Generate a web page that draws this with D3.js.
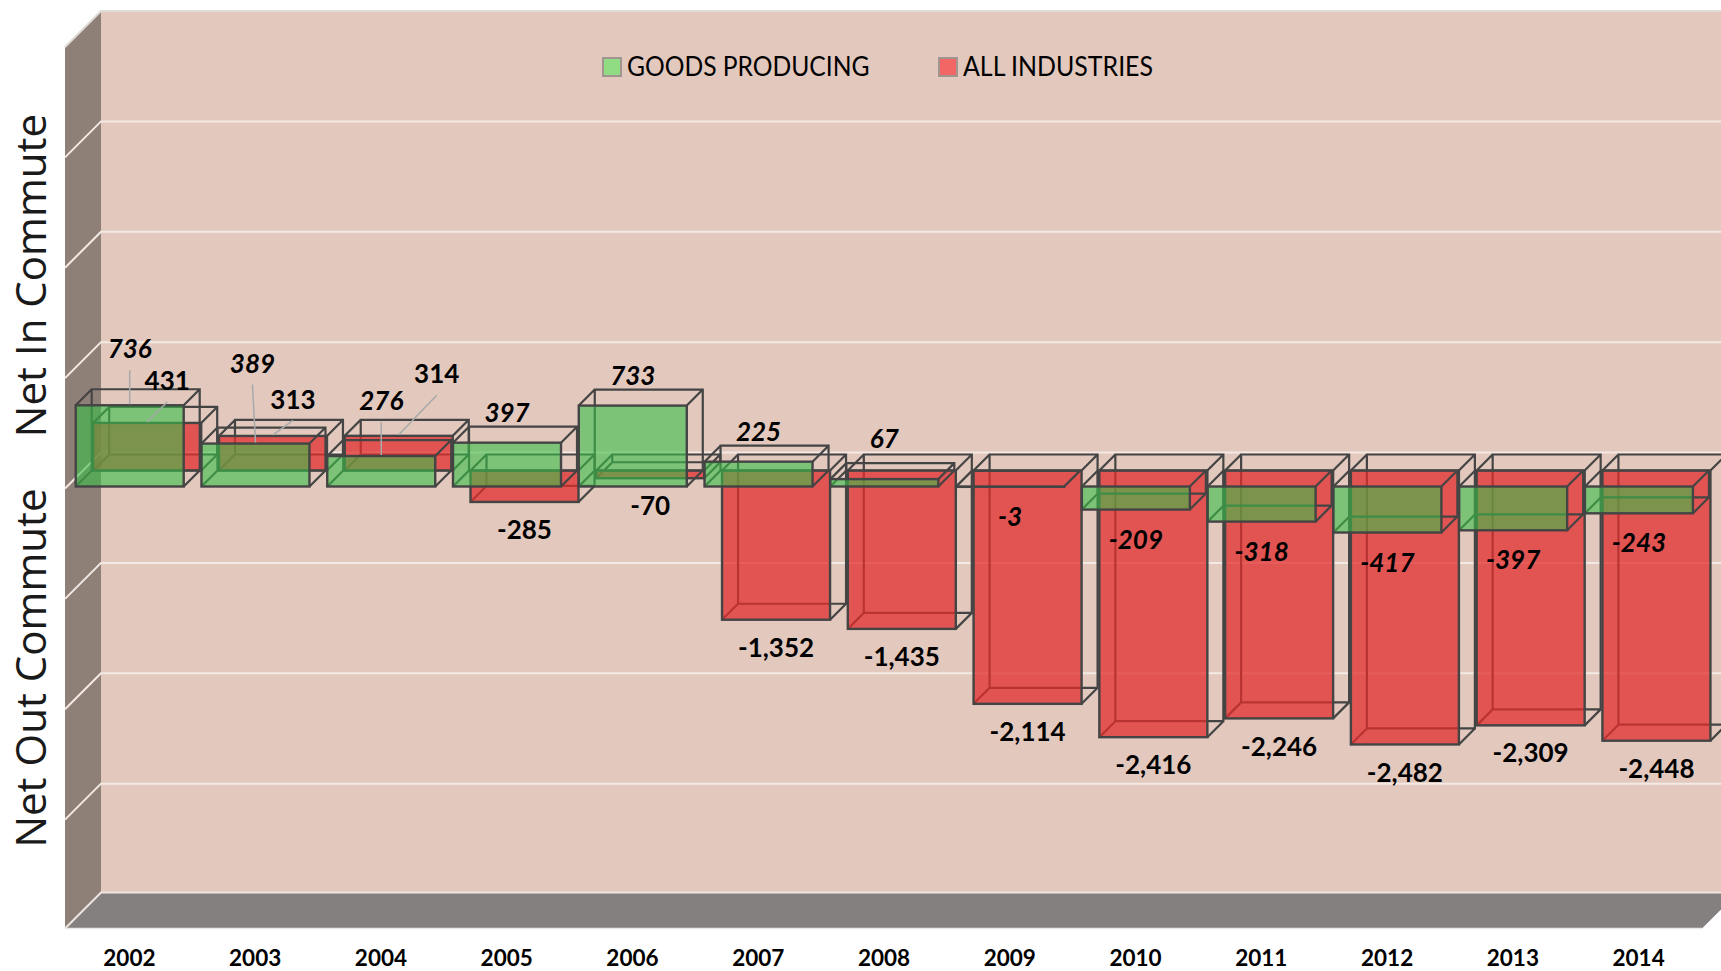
<!DOCTYPE html>
<html>
<head>
<meta charset="utf-8">
<script src="https://cdn.jsdelivr.net/npm/d3@7"></script>
<style>
  html, body { margin: 0; padding: 0; background: #fff; overflow: hidden; }
  text { font-family: Lato, sans-serif; fill: #000; }
</style>
</head>
<body>
<div id="chart"></div>
<script>
const years = ["2002","2003","2004","2005","2006","2007","2008","2009","2010","2011","2012","2013","2014"];
const goodsProducing = [736, 389, 276, 397, 733, 225, 67, -3, -209, -318, -417, -397, -243];
const allIndustries = [431, 313, 314, -285, -70, -1352, -1435, -2114, -2416, -2246, -2482, -2309, -2448];
const gridValues = [4000, 3000, 2000, 1000, 0, -1000, -2000, -3000];

const width = 1721, height = 971;
const wallDepth = 36, barDepth = 16, barWidth = 108, barInset = 8.7;

const x = d3.scaleBand().domain(years).range([65, 1700]);
const y = d3.scaleLinear().domain([-4000, 4000]).range([894, 11]);

// depth d runs 0 (front of the floor) to wallDepth (back wall)
const px = (year, d) => x(year) + barInset + d;
const py = (v, d) => y(v) + wallDepth - d;

const svg = d3.select("#chart").append("svg")
  .attr("width", width).attr("height", height)
  .attr("viewBox", [0, 0, width, height])
  .style("display", "block");

// walls and floor
const wallLeft = x.range()[0], wallRight = x.range()[1] + 2;
const yTop = y(4000), yBottom = y(-4000) - 1.5;
const poly = pts => pts.map(p => p.join(",")).join(" ");

svg.append("rect").attr("x", wallLeft + wallDepth).attr("y", yTop)
  .attr("width", width).attr("height", yBottom - yTop).attr("fill", "#e2c8bd");
svg.append("polygon")
  .attr("points", poly([[wallLeft, yTop + wallDepth], [wallLeft + wallDepth, yTop], [wallLeft + wallDepth, yBottom], [wallLeft, yBottom + wallDepth]]))
  .attr("fill", "#8f8077");
svg.append("polygon")
  .attr("points", poly([[wallLeft, yBottom + wallDepth], [wallRight, yBottom + wallDepth], [wallRight + wallDepth, yBottom], [wallLeft + wallDepth, yBottom]]))
  .attr("fill", "#848080");

svg.append("g").selectAll("polyline").data(gridValues).join("polyline")
  .attr("points", d => poly([[wallLeft, y(d) + wallDepth], [wallLeft + wallDepth, y(d)], [width, y(d)]]))
  .attr("fill", "none")
  .attr("stroke", d => d === 4000 ? "#dedbd8" : "#f4eae5")
  .attr("stroke-width", 2);
// bottom edge of the walls, along the back of the floor
svg.append("polyline")
  .attr("points", poly([[wallLeft, yBottom + wallDepth], [wallLeft + wallDepth, yBottom], [width, yBottom]]))
  .attr("fill", "none").attr("stroke", "#efe6e1").attr("stroke-width", 2);
svg.append("line").attr("x1", wallLeft).attr("x2", wallRight)
  .attr("y1", yBottom + wallDepth).attr("y2", yBottom + wallDepth)
  .attr("stroke", "#ece8e6").attr("stroke-width", 1.5);

// one wireframe box per value, only the front face is filled
const series = [
  { name: "ALL INDUSTRIES", values: allIndustries, depth: 18, nudge: 1.5, fill: "rgb(226,45,45)", alpha: 0.75 },
  { name: "GOODS PRODUCING", values: goodsProducing, depth: 2, nudge: 0, fill: "rgb(56,190,72)", alpha: 0.6 },
];

series.forEach(s => {
  const g = svg.append("g").attr("class", "series");
  const d0 = s.depth, d1 = s.depth + barDepth;
  const box = g.selectAll("g").data(years.map((yr, i) => ({ yr, v: s.values[i] }))).join("g");

  box.append("path")
    .attr("d", ({ yr, v }) => {
      const xa = px(yr, d0) + s.nudge, xb = xa + barWidth, xc = px(yr, d1) + s.nudge, xd = xc + barWidth;
      const hi = Math.max(v, 0), lo = Math.min(v, 0);
      const t0 = py(hi, d0), b0 = py(lo, d0), t1 = py(hi, d1), b1 = py(lo, d1);
      return `M${xc},${t1}H${xd}V${b1}H${xc}Z`
        + `M${xa},${t0}L${xc},${t1}M${xb},${t0}L${xd},${t1}`
        + `M${xa},${b0}L${xc},${b1}M${xb},${b0}L${xd},${b1}`;
    })
    .attr("fill", "none").attr("stroke", "#444").attr("stroke-width", 2.2);

  box.append("rect")
    .attr("x", ({ yr }) => px(yr, d0) + s.nudge)
    .attr("y", ({ v }) => py(Math.max(v, 0), d0))
    .attr("width", barWidth)
    .attr("height", ({ v }) => Math.abs(py(v, d0) - py(0, d0)))
    .attr("fill", s.fill).attr("fill-opacity", s.alpha)
    .attr("stroke", "#444").attr("stroke-width", 2.4);
});

// labels that were dragged away from the bars in the original, with leader lines
const dragged = {
  "GOODS PRODUCING": { "2002": [0, -26], "2003": [-3, -50], "2004": [0, -25], "2008": [0, -10] },
  "ALL INDUSTRIES": { "2002": [20, -26], "2003": [20, -20.5], "2004": [38, -45.5] },
};
const leaders = {
  "GOODS PRODUCING": ["2002", "2003", "2004"],
  "ALL INDUSTRIES": ["2002", "2003", "2004"],
};

const fmt = v => d3.format(",d")(v).replace("\u2212", "-");
const labels = svg.append("g").attr("class", "labels");
series.forEach(s => {
  const green = s.depth === 2;
  const d0 = s.depth;
  years.forEach((yr, i) => {
    const v = s.values[i];
    const cx = px(yr, d0) + s.nudge + barWidth / 2;
    const [dx, dy] = (dragged[s.name][yr]) || [0, 0];
    let ly;
    if (v >= 0) ly = py(v, d0) - (green ? 30 : 16) + dy;
    else ly = py(v, d0) + (green ? 30 : 28);
    if (leaders[s.name].includes(yr)) {
      labels.append("line")
        .attr("x1", cx + dx).attr("y1", ly + 21)
        .attr("x2", cx).attr("y2", py(v, d0) - 1)
        .attr("stroke", "#a7a9aa").attr("stroke-width", 1.5);
    }
    labels.append("text")
      .attr("x", cx + dx).attr("y", ly)
      .attr("dy", "0.35em").attr("text-anchor", "middle")
      .attr("font-size", 26).attr("font-weight", 700)
      .attr("font-style", green ? "italic" : "normal")
      .text(fmt(v));
  });
});

// year axis
const axis = svg.append("g")
  .attr("transform", "translate(1.5,958)")
  .call(d3.axisBottom(x).tickSize(0).tickPadding(0));
axis.select(".domain").remove();
axis.selectAll("text")
  .attr("dy", "0.35em")
  .attr("font-size", 22.5).attr("font-weight", 700)
  .style("font-family", "Lato, sans-serif").style("fill", "#000");

// axis titles
[["Net In Commute", 275.5], ["Net Out Commute", 668]].forEach(([t, cy]) => {
  svg.append("text")
    .attr("transform", `translate(46,${cy}) rotate(-90)`)
    .attr("text-anchor", "middle")
    .attr("font-size", 42)
    .style("font-family", "'Open Sans', sans-serif").style("fill", "#1a1a1a")
    .text(t);
});

// legend
const legendItems = [
  { name: "GOODS PRODUCING", color: "#8fdc83", x: 602, len: 242.5 },
  { name: "ALL INDUSTRIES", color: "#f26666", x: 938, len: 190 },
];
const legend = svg.append("g").selectAll("g").data(legendItems).join("g")
  .attr("transform", d => `translate(${d.x},57)`);
legend.append("rect").attr("x", 1).attr("y", 1).attr("width", 18).attr("height", 18)
  .attr("fill", d => d.color).attr("stroke", "#a0968f").attr("stroke-width", 2);
legend.append("text").attr("x", 25).attr("y", 9.5).attr("dy", "0.35em")
  .attr("font-size", 26)
  .attr("textLength", d => d.len).attr("lengthAdjust", "spacingAndGlyphs")
  .text(d => d.name);
</script>
</body>
</html>
